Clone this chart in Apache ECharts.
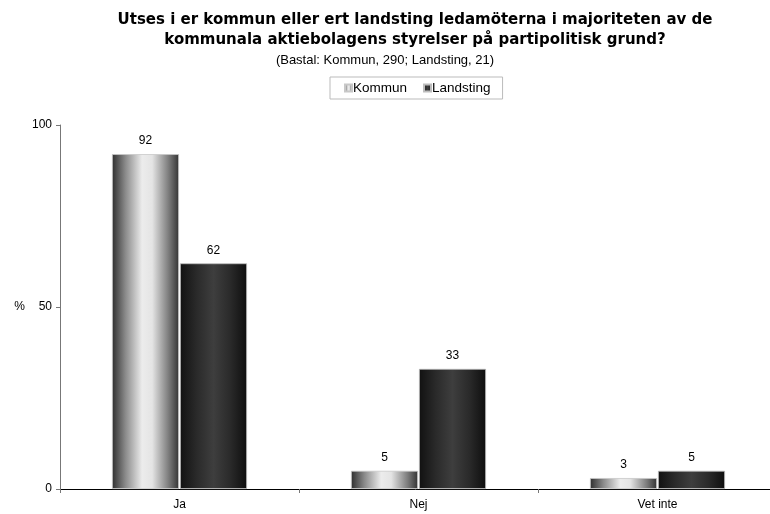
<!DOCTYPE html>
<html><head><meta charset="utf-8">
<script src="https://cdn.jsdelivr.net/npm/echarts@6/dist/echarts.min.js"></script>
<style>html,body{margin:0;padding:0;background:#fff}#c{width:770px;height:514px}</style>
</head><body><div id="c"></div>
<script>
const categories = ['Ja', 'Nej', 'Vet inte'];
const kommun = [92, 5, 3];
const landsting = [62, 33, 5];
const yTicks = [0, 50, 100];

const font = '"Liberation Sans", Arial, sans-serif';
const gradK = new echarts.graphic.LinearGradient(0, 0, 1, 0, [
  {offset: 0, color: '#2e2e2e'}, {offset: 0.2, color: '#8a8a8a'},
  {offset: 0.45, color: '#ececec'}, {offset: 0.6, color: '#e4e4e4'},
  {offset: 0.85, color: '#7a7a7a'}, {offset: 1, color: '#333333'}]);
const gradL = new echarts.graphic.LinearGradient(0, 0, 1, 0, [
  {offset: 0, color: '#111111'}, {offset: 0.25, color: '#2a2a2a'},
  {offset: 0.5, color: '#3e3e3e'}, {offset: 0.75, color: '#2a2a2a'},
  {offset: 1, color: '#0e0e0e'}]);

const chart = echarts.init(document.getElementById('c'), null, {renderer: 'canvas'});
chart.setOption({
  animation: false,
  backgroundColor: '#fff',
  textStyle: {fontFamily: font},
  title: [{
    text: 'Utses i er kommun eller ert landsting ledamöterna i majoriteten av de\nkommunala aktiebolagens styrelser på partipolitisk grund?',
    left: 410, top: 5, textAlign: 'center',
    textStyle: {fontSize: 15, fontWeight: 'bold', color: '#000', fontFamily: '"DejaVu Sans", sans-serif', lineHeight: 20}
  }, {
    text: '(Bastal: Kommun, 290; Landsting, 21)',
    left: 'center', top: 49,
    textStyle: {fontSize: 13, fontWeight: 'normal', color: '#000', fontFamily: font}
  }],
  legend: {
    top: 77, left: 330,
    data: ['Kommun', 'Landsting'],
    itemWidth: 7, itemHeight: 7, itemGap: 16,
    padding: [4, 12, 4, 14],
    borderColor: '#bbbbbb', borderWidth: 1, borderRadius: 0,
    textStyle: {fontSize: 13.5, color: '#000', fontFamily: font, padding: [0, 0, 0, -4]},
    icon: 'rect'
  },
  grid: {left: 60, right: -7, top: 125, bottom: 25, outerBoundsMode: 'none', containLabel: false},
  xAxis: {
    type: 'category', data: categories,
    axisLine: {lineStyle: {color: '#000', width: 1}},
    axisTick: {show: true, alignWithLabel: false, length: 4, lineStyle: {color: '#777'}},
    axisLabel: {fontSize: 12, color: '#000', margin: 10, fontFamily: font},
    splitLine: {show: false}
  },
  yAxis: {
    type: 'value', min: 0, max: 100, interval: 50,
    name: '%', nameLocation: 'middle', nameRotate: 0, nameGap: 35,
    nameTextStyle: {fontSize: 12, color: '#000', fontFamily: font},
    axisLine: {show: true, lineStyle: {color: '#777', width: 1}},
    axisTick: {show: true, length: 4, lineStyle: {color: '#777'}},
    axisLabel: {fontSize: 12, color: '#000', margin: 8, fontFamily: font,
      formatter: v => yTicks.includes(v) ? String(v) : ''},
    splitLine: {show: false}
  },
  series: [{
    name: 'Kommun', type: 'bar', data: kommun,
    barGap: '1.5%', barCategoryGap: '43.5%',
    itemStyle: {color: gradK, borderColor: '#c8c8c8', borderWidth: 0.8},
    label: {show: true, position: 'top', distance: 7, fontSize: 12, color: '#000', fontFamily: font}
  }, {
    name: 'Landsting', type: 'bar', data: landsting,
    itemStyle: {color: gradL, borderColor: '#bdbdbd', borderWidth: 0.8},
    label: {show: true, position: 'top', distance: 7, fontSize: 12, color: '#000', fontFamily: font}
  }]
});
</script></body></html>
